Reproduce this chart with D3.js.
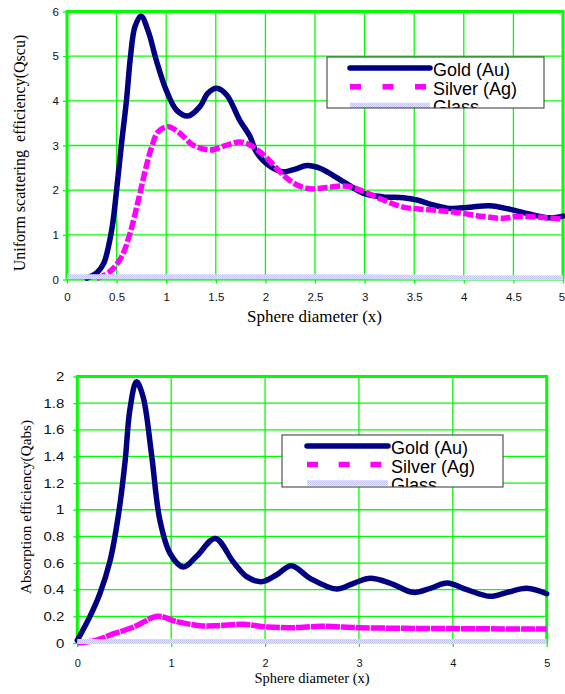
<!DOCTYPE html>
<html>
<head>
<meta charset="utf-8">
<script src="https://cdn.jsdelivr.net/npm/d3@7/dist/d3.min.js"></script>
<style>
  html, body { margin: 0; padding: 0; background: #fff; }
  svg { display: block; }
  .sans { font-family: "Liberation Sans", Arial, sans-serif; }
  .serif { font-family: "Liberation Serif", "Times New Roman", serif; }
</style>
</head>
<body>
<svg id="fig" width="565" height="694"></svg>
<script>
// ---- Scattering efficiency vs sphere diameter ----
const scaGoldX   = [0.20, 0.30, 0.37, 0.45, 0.50, 0.55, 0.60, 0.64, 0.685, 0.746, 0.82, 0.90, 1.00, 1.105, 1.22, 1.34, 1.42, 1.51, 1.61, 1.74, 1.845, 1.91, 2.05, 2.18, 2.30, 2.42, 2.55, 2.785, 2.99, 3.19, 3.39, 3.53, 3.69, 3.86, 4.06, 4.26, 4.47, 4.67, 4.87, 5.00];
const scaGoldY   = [0.03, 0.15, 0.36, 1.10, 2.00, 3.05, 4.02, 4.99, 5.66, 5.90, 5.55, 4.91, 4.24, 3.79, 3.66, 3.87, 4.17, 4.28, 4.13, 3.57, 3.20, 2.85, 2.53, 2.41, 2.47, 2.55, 2.49, 2.19, 1.93, 1.85, 1.83, 1.78, 1.67, 1.59, 1.62, 1.65, 1.57, 1.46, 1.38, 1.42];
const scaSilverX = [0.30, 0.43, 0.55, 0.635, 0.72, 0.79, 0.854, 0.92, 1.02, 1.14, 1.27, 1.44, 1.61, 1.74, 1.845, 1.98, 2.18, 2.315, 2.45, 2.62, 2.82, 2.99, 3.19, 3.39, 3.66, 3.93, 4.20, 4.40, 4.53, 4.80, 5.00];
const scaSilverY = [0.02, 0.17, 0.51, 1.03, 1.78, 2.45, 2.97, 3.31, 3.42, 3.27, 3.01, 2.90, 3.01, 3.08, 3.01, 2.79, 2.34, 2.12, 2.03, 2.06, 2.09, 1.97, 1.78, 1.62, 1.56, 1.50, 1.41, 1.37, 1.41, 1.39, 1.35];
const scaGlassX  = [0, 1, 2, 3, 3.75, 4, 5];
const scaGlassY  = [0.06, 0.06, 0.06, 0.06, 0.05, 0.04, 0.04];

// ---- Absorption efficiency vs sphere diameter ----
const absGoldX   = [0.00, 0.135, 0.24, 0.35, 0.44, 0.51, 0.56, 0.63, 0.70, 0.79, 0.88, 0.99, 1.13, 1.27, 1.47, 1.66, 1.80, 1.96, 2.12, 2.28, 2.48, 2.76, 2.95, 3.12, 3.33, 3.58, 3.76, 3.94, 4.15, 4.40, 4.58, 4.79, 5.00];
const absGoldY   = [0.02, 0.20, 0.37, 0.62, 0.97, 1.37, 1.75, 1.96, 1.85, 1.42, 0.92, 0.67, 0.57, 0.65, 0.785, 0.61, 0.50, 0.46, 0.51, 0.58, 0.485, 0.405, 0.45, 0.485, 0.45, 0.38, 0.41, 0.45, 0.40, 0.35, 0.38, 0.41, 0.37];
const absSilverX = [0.00, 0.20, 0.35, 0.60, 0.86, 1.06, 1.31, 1.50, 1.77, 2.02, 2.30, 2.60, 3.00, 3.50, 4.00, 4.50, 5.00];
const absSilverY = [0.00, 0.02, 0.06, 0.12, 0.20, 0.16, 0.13, 0.13, 0.14, 0.12, 0.115, 0.125, 0.115, 0.11, 0.108, 0.106, 0.106];
const absGlassX  = [0, 1, 2, 3, 4, 5];
const absGlassY  = [0.012, 0.012, 0.012, 0.012, 0.012, 0.012];

// ---- Axis ticks and labels ----
const scaXTicks = [0, 0.5, 1, 1.5, 2, 2.5, 3, 3.5, 4, 4.5, 5];
const scaYTicks = [0, 1, 2, 3, 4, 5, 6];
const absXTicks = [0, 1, 2, 3, 4, 5];
const absYTicks = [0, 0.2, 0.4, 0.6, 0.8, 1, 1.2, 1.4, 1.6, 1.8, 2];
const seriesNames = ["Gold (Au)", "Silver (Ag)", "Glass"];
const xTitle = "Sphere diameter (x)";
const scaYTitle = "Uniform scattering  efficiency(Qscu)";
const absYTitle = "Absorption efficiency(Qabs)";

const GOLD = "#000080", SILVER = "#FF00FF", GRID = "#00FF00";

const svg = d3.select("#fig");
const zip = (xs, ys) => xs.map((x, i) => [x, ys[i]]);

// light lavender dotted fill used for the glass series
const defs = svg.append("defs");
const pat = defs.append("pattern").attr("id", "glassPat").attr("patternUnits", "userSpaceOnUse")
  .attr("width", 2).attr("height", 2);
pat.append("rect").attr("width", 2).attr("height", 2).attr("fill", "#E4E4FA");
pat.append("rect").attr("width", 1).attr("height", 1).attr("fill", "#BDBDEE");
pat.append("rect").attr("x", 1).attr("y", 1).attr("width", 1).attr("height", 1).attr("fill", "#C8C8F2");
const GLASS = "url(#glassPat)";

function panel(cfg) {
  const x = d3.scaleLinear().domain([0, 5]).range([cfg.left, cfg.right]);
  const y = d3.scaleLinear().domain(cfg.yDomain).range([cfg.bottom, cfg.top]);
  const g = svg.append("g");

  // grid
  g.append("g").selectAll("line").data(cfg.xTicks).join("line")
    .attr("x1", d => x(d)).attr("x2", d => x(d))
    .attr("y1", cfg.top).attr("y2", cfg.bottom)
    .attr("stroke", GRID).attr("stroke-width", 1.3);
  g.append("g").selectAll("line").data(cfg.yTicks).join("line")
    .attr("y1", d => y(d)).attr("y2", d => y(d))
    .attr("x1", cfg.left).attr("x2", cfg.right)
    .attr("stroke", GRID).attr("stroke-width", 1.3);

  // heavy frame edges (left, top, right), axis line at bottom
  const frame = g.append("g").attr("stroke", GRID).attr("fill", "none");
  frame.append("path")
    .attr("d", `M${cfg.left},${cfg.bottom}V${cfg.top}H${cfg.right}V${cfg.bottom}`)
    .attr("stroke-width", 3);
  frame.append("line").attr("x1", cfg.left).attr("x2", cfg.right)
    .attr("y1", cfg.bottom).attr("y2", cfg.bottom).attr("stroke-width", 2);

  // axes via d3
  const xAxis = d3.axisBottom(x).tickValues(cfg.xTicks).tickSize(4).tickPadding(cfg.xPad)
    .tickFormat(d3.format("~g"));
  const gx = g.append("g").attr("transform", `translate(0,${cfg.bottom})`).call(xAxis);
  gx.select(".domain").remove();
  gx.selectAll(".tick line").attr("stroke", GRID).attr("stroke-width", 1.3);
  gx.selectAll(".tick text").attr("class", "sans").attr("fill", "#111")
    .style("font-size", cfg.xFont + "px");
  if (cfg.lastTickShift) {
    gx.selectAll(".tick text").filter(d => d === 5).attr("dx", cfg.lastTickShift);
  }

  const yAxis = d3.axisLeft(y).tickValues(cfg.yTicks).tickSize(4).tickPadding(cfg.yPad)
    .tickFormat(d3.format("~g"));
  const gy = g.append("g").attr("transform", `translate(${cfg.left},0)`).call(yAxis);
  gy.select(".domain").remove();
  gy.selectAll(".tick line").attr("stroke", GRID).attr("stroke-width", 1.3);
  gy.selectAll(".tick text").attr("class", "sans").attr("fill", "#111")
    .style("font-size", cfg.yFont + "px");
  if (cfg.yStretch) {
    gy.selectAll(".tick text")
      .attr("x", null)
      .attr("transform", `translate(${-cfg.yPad - 4},0) scale(${cfg.yStretch},1)`);
  }

  // series
  const line = d3.line().x(d => x(d[0])).y(d => y(d[1])).curve(d3.curveCatmullRom.alpha(0.5));
  g.append("path").datum(zip(cfg.gold[0], cfg.gold[1])).attr("d", line)
    .attr("fill", "none").attr("stroke", GOLD).attr("stroke-width", 5.5)
    .attr("stroke-linejoin", "round").attr("stroke-linecap", "round");
  g.append("path").datum(zip(cfg.silver[0], cfg.silver[1])).attr("d", line)
    .attr("fill", "none").attr("stroke", SILVER).attr("stroke-width", 5.5)
    .attr("stroke-dasharray", cfg.silverDash);
  g.append("path").datum(zip(cfg.glass[0], cfg.glass[1])).attr("d", line)
    .attr("fill", "none").attr("stroke", GLASS).attr("stroke-width", 5);

  // axis titles
  g.append("text").attr("class", "serif")
    .attr("x", cfg.xTitlePos[0]).attr("y", cfg.xTitlePos[1])
    .attr("text-anchor", "middle").style("font-size", cfg.xTitleFont + "px")
    .attr("fill", "#000").text(xTitle);
  g.append("text").attr("class", "serif")
    .attr("transform", `translate(${cfg.yTitlePos[0]},${cfg.yTitlePos[1]}) rotate(-90)`)
    .attr("text-anchor", "middle").style("font-size", cfg.yTitleFont + "px")
    .style("white-space", "pre").attr("fill", "#000").text(cfg.yTitle);

  // legend (box clips its last entry)
  const L = cfg.legend;
  const clipId = "clip" + cfg.id;
  defs.append("clipPath").attr("id", clipId).append("rect")
    .attr("x", L.x).attr("y", L.y).attr("width", L.w).attr("height", L.h);
  const lg = g.append("g");
  lg.append("rect").attr("x", L.x).attr("y", L.y).attr("width", L.w).attr("height", L.h)
    .attr("fill", "#fff");
  const inner = lg.append("g").attr("clip-path", `url(#${clipId})`);
  const styles = [
    { stroke: GOLD, dash: null, cap: "round" },
    { stroke: SILVER, dash: L.dash, cap: "butt" },
    { stroke: GLASS, dash: null, cap: "butt" }
  ];
  seriesNames.forEach((name, i) => {
    const cy = L.lineY0 + i * L.step;
    inner.append("line").attr("x1", L.lx1).attr("x2", L.lx2).attr("y1", cy).attr("y2", cy)
      .attr("stroke", styles[i].stroke).attr("stroke-width", 5.5)
      .attr("stroke-linecap", styles[i].cap)
      .attr("stroke-dasharray", styles[i].dash);
    inner.append("text").attr("class", "sans").attr("x", L.tx).attr("y", cy + L.textDy)
      .style("font-size", L.font + "px").attr("fill", "#000").text(name);
  });
  lg.append("rect").attr("x", L.x).attr("y", L.y).attr("width", L.w).attr("height", L.h)
    .attr("fill", "none").attr("stroke", "#333").attr("stroke-width", 1);
}

panel({
  id: "sca", left: 67, right: 563, top: 11.5, bottom: 279.5, yDomain: [0, 6],
  xTicks: scaXTicks, yTicks: scaYTicks, xFont: 11.5, yFont: 11.5, xPad: 9, yPad: 4,
  lastTickShift: -1.5,
  gold: [scaGoldX, scaGoldY], silver: [scaSilverX, scaSilverY], glass: [scaGlassX, scaGlassY],
  silverDash: "10,2.5",
  xTitlePos: [314.5, 322], xTitleFont: 17,
  yTitlePos: [25, 153], yTitleFont: 16, yTitle: scaYTitle,
  legend: { x: 327, y: 57, w: 217, h: 51, lx1: 350, lx2: 430, tx: 433, lineY0: 68, step: 18.7,
            textDy: 8, font: 18, dash: "11,21.5" }
});

panel({
  id: "abs", left: 77.3, right: 546.7, top: 376.5, bottom: 643, yDomain: [0, 2],
  xTicks: absXTicks, yTicks: absYTicks, xFont: 11, yFont: 12.5, xPad: 12, yPad: 9, yStretch: 1.2,
  gold: [absGoldX, absGoldY], silver: [absSilverX, absSilverY], glass: [absGlassX, absGlassY],
  silverDash: "14,1",
  xTitlePos: [312, 683], xTitleFont: 14.5,
  yTitlePos: [31, 507], yTitleFont: 15.2, yTitle: absYTitle,
  legend: { x: 282, y: 435, w: 221, h: 52, lx1: 307, lx2: 388, tx: 391, lineY0: 446, step: 18.5,
            textDy: 8, font: 18, dash: "11,20.7" }
});
</script>
</body>
</html>
